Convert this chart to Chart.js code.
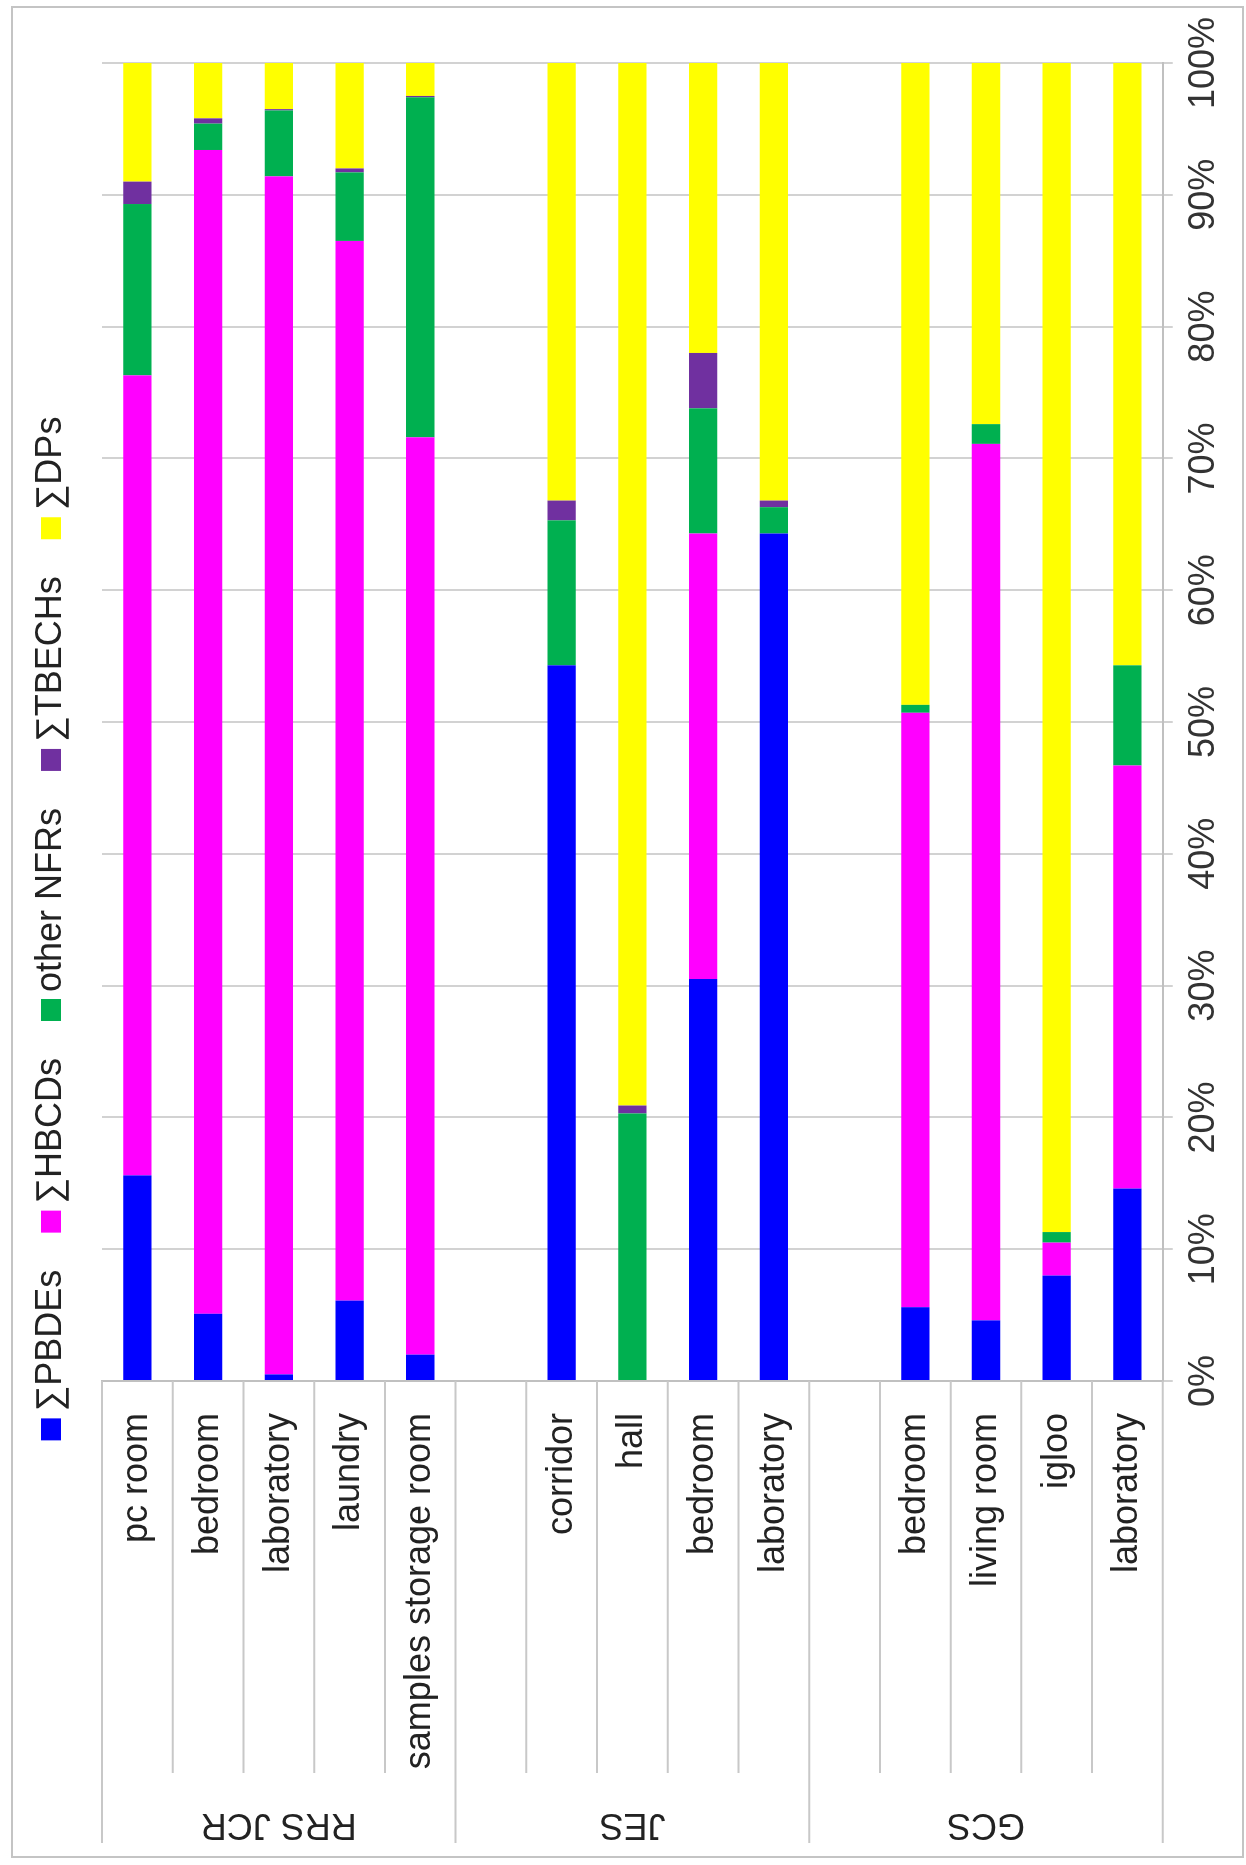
<!DOCTYPE html>
<html>
<head>
<meta charset="utf-8">
<script src="https://cdn.jsdelivr.net/npm/chart.js@4.4.1/dist/chart.umd.min.js"></script>
<style>
  html, body { margin: 0; padding: 0; background: #fff; }
  #wrap { position: relative; width: 1246px; height: 1865px; overflow: hidden; }
  /* the chart is drawn lying down and turned a quarter turn, like the scan */
  #chart { position: absolute; left: 0; top: 0; transform-origin: 0 0;
           transform: translateY(1865px) rotate(-90deg); }
</style>
</head>
<body>
<div id="wrap"><canvas id="chart" width="1865" height="1246"></canvas></div>
<script>
// stations and rooms (blank slot = gap between stations)
const groupNames = ["RRS JCR", "JES", "GCS"];
const groupSizes = [5, 5, 5];
const roomLabels = [
  "pc room", "bedroom", "laboratory", "laundry", "samples storage room",
  "", "corridor", "hall", "bedroom", "laboratory",
  "", "bedroom", "living room", "igloo", "laboratory"
];

// share of each compound class, %
const pbdes  = [15.6, 5.1, 0.5, 6.1, 2.0, null, 54.3, 0, 30.5, 64.3, null, 5.6, 4.6, 8.0, 14.6];
const hbcds  = [60.7, 88.3, 90.9, 80.4, 69.6, null, 0, 0, 33.8, 0, null, 45.1, 66.5, 2.5, 32.1];
const nfrs   = [13.0, 2.0, 5.0, 5.2, 25.8, null, 11.0, 20.3, 9.5, 2.0, null, 0.6, 1.5, 0.8, 7.6];
const tbechs = [1.7, 0.4, 0.1, 0.3, 0.1, null, 1.5, 0.6, 4.2, 0.5, null, 0, 0, 0, 0];
const dps    = [9.0, 4.2, 3.5, 8.0, 2.5, null, 33.2, 79.1, 22.0, 33.2, null, 48.7, 27.4, 88.7, 45.7];

const percentTicks = [0, 10, 20, 30, 40, 50, 60, 70, 80, 90, 100];

const FONT = "'Liberation Sans', Arial, sans-serif";

// legend swatch drawn off-centre so it sits close to its text (as in Excel)
function swatch(color) {
  const c = document.createElement("canvas");
  c.width = 48;
  c.height = 20;
  const g = c.getContext("2d");
  g.fillStyle = color;
  g.fillRect(24, 0, 22, 20);
  return c;
}

const categoryLabels = {
  id: "categoryLabels",
  afterDraw(chart) {
    const ctx = chart.ctx;
    const y = chart.scales.y;
    const left = chart.chartArea.left;
    const n = roomLabels.length;
    const slot = (y.getPixelForValue(n - 1) - y.getPixelForValue(0)) / (n - 1);
    const edge = (i) => y.getPixelForValue(0) + (i - 0.5) * slot;

    const groupEdges = [0];
    groupSizes.forEach((s) => groupEdges.push(groupEdges[groupEdges.length - 1] + s));

    ctx.save();
    // separators of the category axis
    ctx.strokeStyle = "#c8c8c8";
    ctx.lineWidth = 2;
    for (let i = 0; i <= n; i++) {
      const py = edge(i);
      ctx.beginPath();
      ctx.moveTo(left, py);
      ctx.lineTo(groupEdges.includes(i) ? 22 : 92, py);
      ctx.stroke();
    }

    // room names
    ctx.fillStyle = "#222";
    ctx.font = "36px " + FONT;
    ctx.textAlign = "right";
    ctx.textBaseline = "middle";
    roomLabels.forEach((lab, i) => {
      if (lab) ctx.fillText(lab, left - 32, y.getPixelForValue(i));
    });

    // station names, turned
    ctx.textAlign = "center";
    groupNames.forEach((g, k) => {
      const cy = (edge(groupEdges[k]) + edge(groupEdges[k + 1])) / 2;
      ctx.save();
      ctx.translate(41, cy);
      ctx.rotate(-Math.PI / 2);
      ctx.fillText(g, 0, 0);
      ctx.restore();
    });

    // outer frame
    ctx.strokeStyle = "#c4c4c4";
    ctx.strokeRect(8, 12, 1850, 1231);
    ctx.restore();
  }
};

const ctx = document.getElementById("chart").getContext("2d");

new Chart(ctx, {
  type: "bar",
  data: {
    labels: roomLabels,
    datasets: [
      { label: "\u2211PBDEs", data: pbdes, backgroundColor: "#0000ff" },
      { label: "\u2211HBCDs", data: hbcds, backgroundColor: "#ff00ff" },
      { label: "other NFRs", data: nfrs, backgroundColor: "#00b050" },
      { label: "\u2211TBECHs", data: tbechs, backgroundColor: "#7030a0" },
      { label: "\u2211DPs", data: dps, backgroundColor: "#ffff00" }
    ].map((d) => Object.assign(d, { xAxisID: "x", borderWidth: 0, categoryPercentage: 0.8, barPercentage: 0.5 }))
  },
  options: {
    indexAxis: "y",
    responsive: false,
    animation: false,
    layout: { padding: { top: 7, left: 60, right: 63, bottom: 10 } },
    plugins: {
      legend: {
        position: "top",
        labels: {
          usePointStyle: true,
          boxWidth: 22,
          boxHeight: 20,
          padding: 26,
          color: "#222",
          font: { family: FONT, size: 36 },
          generateLabels: (chart) =>
            Chart.defaults.plugins.legend.labels.generateLabels(chart).map((item) => {
              item.pointStyle = swatch(chart.data.datasets[item.datasetIndex].backgroundColor);
              return item;
            })
        }
      },
      tooltip: { enabled: false }
    },
    scales: {
      x: {
        stacked: true,
        min: 0,
        max: 100,
        afterBuildTicks: (s) => { s.ticks = percentTicks.map((v) => ({ value: v })); },
        ticks: {
          padding: 10,
          color: "#333",
          font: { family: FONT, size: 36 },
          callback: (v) => v + "%"
        },
        grid: { color: "#d2d2d2", lineWidth: 2, tickLength: 10 },
        border: { color: "#c0c0c0", width: 2 }
      },
      xTop: {
        type: "linear",
        position: "top",
        display: true,
        grid: { display: false },
        border: { display: false },
        ticks: { display: false },
        afterFit: (s) => { s.height = 23; }
      },
      y: {
        stacked: true,
        grid: { display: false },
        ticks: { display: false },
        border: { color: "#c0c0c0", width: 2 },
        afterFit: (s) => { s.width = 424; }
      }
    }
  },
  plugins: [categoryLabels]
});
</script>
</body>
</html>
